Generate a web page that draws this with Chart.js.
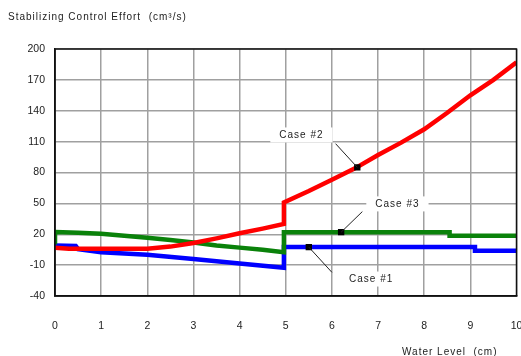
<!DOCTYPE html>
<html>
<head>
<meta charset="utf-8">
<script src="https://cdn.jsdelivr.net/npm/chart.js@4.4.1/dist/chart.umd.min.js"></script>
<style>
  html, body { margin: 0; padding: 0; background: #fff; }
  #wrap { width: 521px; height: 356px; }
</style>
</head>
<body>
<div id="wrap"><canvas id="c" width="521" height="356"></canvas></div>
<script>
// Water level (cm) and control effort (cm^3/s) for each case
const case1X = [0, 0.45, 0.5, 1, 2, 3, 4, 4.96, 4.96, 9.1, 9.1, 10];
const case1Y = [9, 8.5, 5.5, 2.5, 0, -4, -8.5, -12.5, 7.5, 7.5, 4, 4];

const case2X = [0, 0.3, 2, 2.5, 3, 3.5, 4, 4.5, 4.96, 4.96, 5.5, 6, 6.5, 7, 7.5, 8, 8.5, 9, 9.5, 10];
const case2Y = [7, 6, 6, 8, 11.5, 16, 21, 25.5, 30, 51, 62, 73, 84, 97, 109, 122, 138, 155, 170, 187];

const case3X = [0, 0, 0.5, 1, 1.5, 2, 2.5, 3, 3.5, 4, 4.5, 4.96, 4.96, 8.55, 8.55, 10];
const case3Y = [10, 22.3, 21.5, 20.5, 18.5, 16.5, 14.5, 12, 9, 7, 5, 2.5, 22, 22, 18.5, 18.5];

// Callout labels: marker point, text position and leader start (data units)
const calloutNames = ['Case #1', 'Case #2', 'Case #3'];
const markerX = [5.5, 6.55, 6.2];
const markerY = [7.5, 85, 22];
const labelX = [6.85, 5.34, 7.42];
const labelY = [-24, 116, 49];
const leaderX = [6.0, 6.08, 6.66];
const leaderY = [-17, 108, 42];

const xTicks = [0, 1, 2, 3, 4, 5, 6, 7, 8, 9, 10];
const yTicks = [-40, -10, 20, 50, 80, 110, 140, 170, 200];

const pts = (xs, ys) => xs.map((x, i) => ({ x: x, y: ys[i] }));
const FONT = '"Liberation Sans", Arial, sans-serif';

const frameAndText = {
  id: 'frameAndText',
  beforeDatasetsDraw(chart) {
    // white boxes behind the callout texts, covering the grid
    const { ctx, scales: { x, y } } = chart;
    ctx.save();
    ctx.font = '10px ' + FONT;
    ctx.letterSpacing = '1px';
    ctx.fillStyle = '#fff';
    calloutNames.forEach((name, i) => {
      const w = ctx.measureText(name).width + 18;
      const cx = x.getPixelForValue(labelX[i]);
      const cy = y.getPixelForValue(labelY[i]);
      ctx.fillRect(cx - w / 2, cy - 8, w, 15);
    });
    ctx.restore();
  },
  afterDatasetsDraw(chart) {
    const { ctx, chartArea: a, scales: { x, y } } = chart;
    ctx.save();
    ctx.strokeStyle = '#111';
    ctx.lineWidth = 1.5;
    ctx.strokeRect(a.left, a.top, a.right - a.left, a.bottom - a.top);

    ctx.font = '10px ' + FONT;
    ctx.letterSpacing = '1px';
    ctx.fillStyle = '#222';
    ctx.textAlign = 'center';
    ctx.textBaseline = 'middle';
    calloutNames.forEach((name, i) => {
      ctx.fillText(name, x.getPixelForValue(labelX[i]), y.getPixelForValue(labelY[i]));
      ctx.beginPath();
      ctx.strokeStyle = '#222';
      ctx.lineWidth = 1;
      ctx.moveTo(x.getPixelForValue(leaderX[i]), y.getPixelForValue(leaderY[i]));
      ctx.lineTo(x.getPixelForValue(markerX[i]), y.getPixelForValue(markerY[i]));
      ctx.stroke();
    });

    ctx.textAlign = 'left';
    ctx.fillText('Stabilizing Control Effort  (cm\u00B3/s)', 8, 17);
    ctx.fillText('Water Level  (cm)', 402, 352);
    ctx.restore();
  }
};

new Chart(document.getElementById('c'), {
  type: 'line',
  data: {
    datasets: [
      { data: pts(markerX, markerY), showLine: false, pointStyle: 'rect', pointRadius: 4.5, order: 0,
        pointBackgroundColor: '#000', pointBorderColor: '#000', pointBorderWidth: 0 },
      { data: pts(case2X, case2Y), borderColor: '#ff0000', borderWidth: 4.5, pointRadius: 0, tension: 0, order: 1 },
      { data: pts(case3X, case3Y), borderColor: '#0a820a', borderWidth: 4.5, pointRadius: 0, tension: 0, order: 2 },
      { data: pts(case1X, case1Y), borderColor: '#0000ff', borderWidth: 4.5, pointRadius: 0, tension: 0, order: 3 }
    ]
  },
  options: {
    responsive: false,
    animation: false,
    events: [],
    layout: { padding: { top: 49, right: 3, left: 0, bottom: 0 } },
    plugins: { legend: { display: false }, tooltip: { enabled: false }, title: { display: false } },
    scales: {
      x: {
        type: 'linear', min: 0, max: 10,
        afterBuildTicks: s => { s.ticks = xTicks.map(v => ({ value: v })); },
        afterFit: s => { s.height = 60; s.paddingLeft = 0; s.paddingRight = 0; },
        grid: { color: '#a0a0a0', lineWidth: 1.5, drawTicks: false },
        border: { color: '#111', width: 1.5 },
        ticks: { padding: 24, color: '#222', font: { family: FONT, size: 10.5 }, maxRotation: 0 }
      },
      y: {
        min: -40, max: 200,
        afterBuildTicks: s => { s.ticks = yTicks.map(v => ({ value: v })); },
        afterFit: s => { s.width = 55; s.paddingTop = 0; s.paddingBottom = 0; },
        grid: { color: '#a0a0a0', lineWidth: 1.5, drawTicks: false },
        border: { color: '#111', width: 1.5 },
        ticks: { padding: 10, color: '#222', font: { family: FONT, size: 10.5 } }
      }
    }
  },
  plugins: [frameAndText]
});
</script>
</body>
</html>
